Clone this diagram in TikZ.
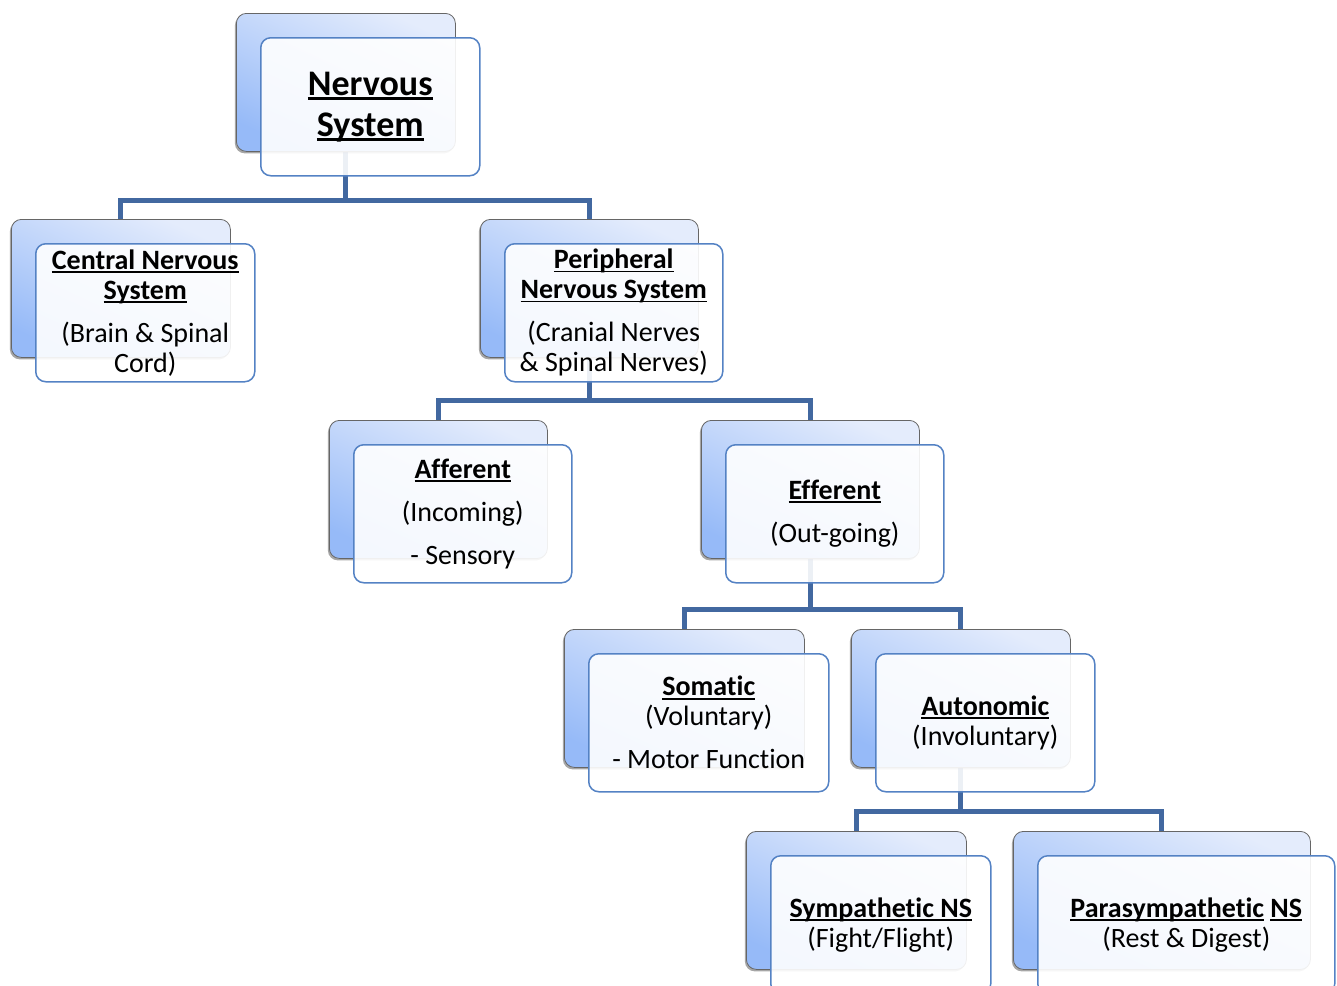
\documentclass[tikz,border=0pt]{standalone}
\usepackage{fontspec}
\setmainfont{Carlito}[Ligatures={NoCommon}]
\usetikzlibrary{backgrounds,shadows}
\definecolor{conn}{RGB}{66,104,160}
\definecolor{fbord}{RGB}{84,130,196}
\definecolor{btop}{RGB}{228,236,252}
\definecolor{bbot}{RGB}{150,186,248}
\newcommand\myul[1]{\leavevmode\setbox0\hbox{#1}\rlap{\rule[-0.13em]{\wd0}{0.065em}}\box0\relax}
\newcommand\cardpair[6]{%
  \node[backcard, minimum width=#4pt] (#1b) at (#2,-#3) {};
  \node[frontcard, minimum width=#4pt, #5] (#1f) at ({#2+24},{-#3-24}) {#6};
}
\tikzset{
  backcard/.style={anchor=north west, rounded corners=10pt, minimum height=138pt, inner sep=0pt,
    draw=black!60, line width=0.8pt, top color=btop, bottom color=bbot, shading angle=-25,
    drop shadow={shadow xshift=-1.5pt, shadow yshift=-2pt, opacity=0.35, fill=black}},
  frontcard/.style={anchor=north west, rounded corners=10pt, minimum height=138pt, inner sep=0pt,
    draw=fbord, line width=1.5pt, fill=white, fill opacity=0.9, text opacity=1, align=center,
    font=\fontsize{28}{30}\selectfont},
  bigtext/.style={font=\fontsize{36}{41}\selectfont},
  connector/.style={draw=conn, line width=5pt},
}
\begin{document}
\begin{tikzpicture}[x=1pt,y=1pt]
\clip (0,0) rectangle (1337,-985);
\cardpair{ns}{236}{13}{219}{bigtext}{\myul{\textbf{Nervous}}\\\myul{\textbf{System}}}
\cardpair{cns}{11}{219}{219}{}{\myul{\textbf{Central Nervous}}\\\myul{\textbf{System}}\\[13pt](Brain \& Spinal\\Cord)}
\cardpair{pns}{480}{219}{218}{}{\myul{\textbf{Peripheral}}\\\myul{\textbf{Nervous System}}\\[13pt](Cranial Nerves\\\& Spinal Nerves)}
\cardpair{aff}{329}{420}{218}{}{\myul{\textbf{Afferent}}\\[13pt](Incoming)\\[13pt]- Sensory}
\cardpair{eff}{701}{420}{218}{}{\myul{\textbf{Efferent}}\\[13pt](Out-going)}
\cardpair{som}{564}{629}{240}{}{\myul{\textbf{Somatic}}\\(Voluntary)\\[13pt]- Motor Function}
\cardpair{aut}{851}{629}{219}{}{\myul{\textbf{Autonomic}}\\(Involuntary)}
\cardpair{sym}{746}{831}{220}{}{\myul{\textbf{Sympathetic NS}}\\(Fight/Flight)}
\cardpair{par}{1013}{831}{297}{}{\myul{\textbf{Parasympathetic}} \myul{\textbf{NS}}\\(Rest \& Digest)}
\coordinate (bus1) at (0,-200);
\coordinate (bus2) at (0,-400);
\coordinate (bus3) at (0,-609);
\coordinate (bus4) at (0,-811);
\begin{scope}[on background layer]
\draw[connector] (nsb.south) -- (nsb.south |- bus1) -| (cnsb.north);
\draw[connector] (nsb.south |- bus1) -| (pnsb.north);
\draw[connector] (pnsb.south) -- (pnsb.south |- bus2) -| (affb.north);
\draw[connector] (pnsb.south |- bus2) -| (effb.north);
\draw[connector] (effb.south) -- (effb.south |- bus3) -| (somb.north);
\draw[connector] (effb.south |- bus3) -| (autb.north);
\draw[connector] (autb.south) -- (autb.south |- bus4) -| (symb.north);
\draw[connector] (autb.south |- bus4) -| (parb.north);
\end{scope}
\end{tikzpicture}
\end{document}
